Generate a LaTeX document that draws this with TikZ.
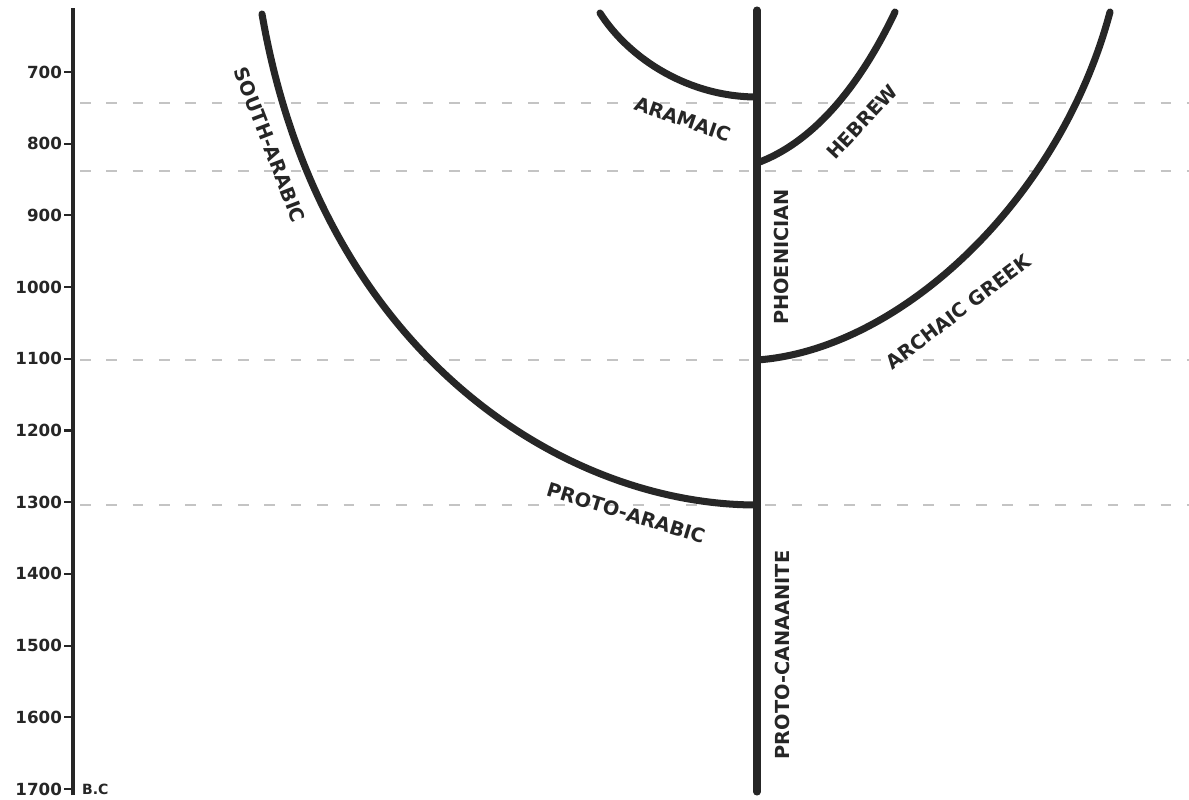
\documentclass[tikz,border=0pt]{standalone}
\usepackage{fontspec}
\setmainfont{DejaVu Sans}
\usetikzlibrary{positioning}
\definecolor{inkdark}{HTML}{262626}
\definecolor{gridgray}{HTML}{C4C4C4}

\begin{document}
\begin{tikzpicture}[x=0.02cm,y=-0.02cm,
  branch/.style={draw=inkdark,line width=4pt,line cap=round},
  axisline/.style={draw=inkdark,line width=1.8pt},
  guide/.style={draw=gridgray,line width=0.6pt,dash pattern=on 6pt off 9pt},
  script/.style={font=\bfseries\fontsize{11}{12}\selectfont,text=inkdark,inner sep=1pt},
  year/.style={font=\bfseries\fontsize{9.5}{10}\selectfont,text=inkdark,anchor=east,inner sep=1pt}]

\fill[white] (0,0) rectangle (1189,800);
\useasboundingbox (0,0) rectangle (1189,800);

% dashed guides
\foreach \gy in {103,171,360,505}
  \draw[guide] (80,\gy) -- (1189,\gy);

% time axis
\coordinate (axisTop) at (73,8);
\coordinate (axisBot) at (73,795);
\draw[axisline] (axisBot) -- (axisTop);
\foreach \yr [count=\i from 0] in {700,800,...,1700}{
  \coordinate (tk\yr) at (73,{72+71.7*\i});
  \node[year] (yr\yr) at (64,{72+71.7*\i}) {\yr};
  \draw[axisline,line width=1.2pt] (yr\yr.east) -- (tk\yr);
}
\node[font=\bfseries\fontsize{8}{9}\selectfont,text=inkdark,anchor=west,inner sep=1pt]
  (bc) at (80,789) {B.C};

% junctions on the stem
\coordinate (stemTop) at (757,10);
\coordinate (stemBot) at (757,792);
\coordinate (aramJ) at (757,97);
\coordinate (hebJ) at (757,163);
\coordinate (greekJ) at (757,360);
\coordinate (arabJ) at (757,505);

% free ends
\coordinate (aramEnd) at (600,13);
\coordinate (hebEnd) at (895,12);
\coordinate (greekEnd) at (1110,12);
\coordinate (arabEnd) at (262,14);

\draw[branch] (stemBot) -- (stemTop);
\draw[branch] (aramJ) .. controls (690,97) and (630,60) .. (aramEnd);
\draw[branch] (hebJ) .. controls (820,140) and (865,75) .. (hebEnd);
\draw[branch] (greekJ) .. controls (900,350) and (1060,200) .. (greekEnd);
\draw[branch] (arabJ) .. controls (560,505) and (320,350) .. (arabEnd);

% labels
\node[script,rotate=-19] (aramaic) at (683,119) {ARAMAIC};
\node[script,rotate=47] (hebrew) at (862,122) {HEBREW};
\node[script,rotate=90] (phoenician) at (781,257) {PHOENICIAN};
\node[script,rotate=37] (archaic) at (958,312) {ARCHAIC GREEK};
\node[script,rotate=-69] (southarabic) at (270,145) {SOUTH-ARABIC};
\node[script,rotate=-17] (protoarabic) at (626,513) {PROTO-ARABIC};
\node[script,rotate=90] (protocanaanite) at (782,655) {PROTO-CANAANITE};
\end{tikzpicture}
\end{document}
